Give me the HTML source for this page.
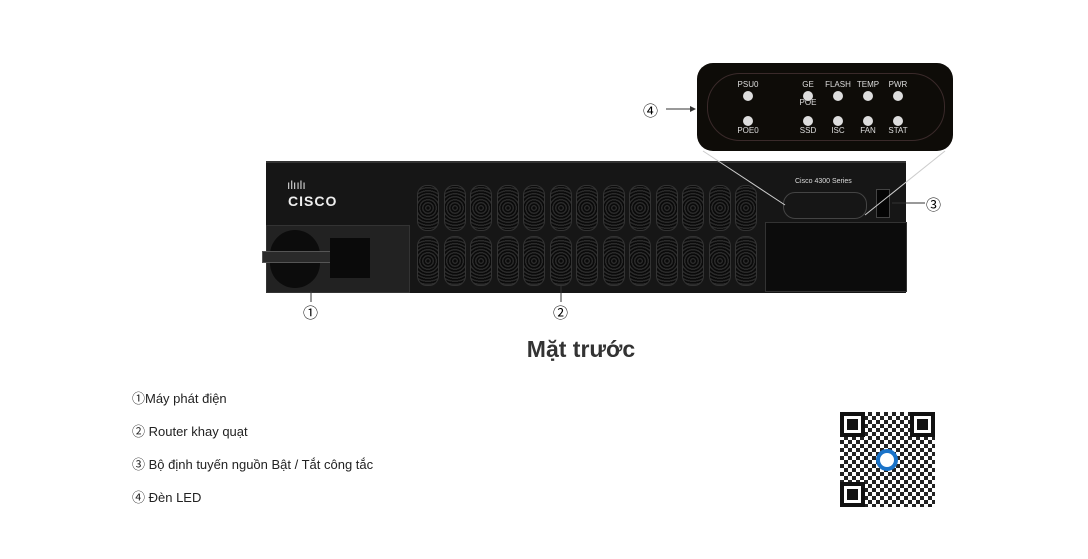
<!DOCTYPE html>
<html><head><meta charset="utf-8"><style>
body{margin:0;width:1088px;height:559px;background:#fff;position:relative;overflow:hidden;font-family:"Liberation Sans","Noto Sans CJK SC",sans-serif}
.a{position:absolute}
.v{position:absolute;width:20px;border-radius:10px;background:repeating-radial-gradient(circle at 50% 50%,#0a0a0a 0 1.5px,#2a2a2a 1.6px 3px);border:1px solid #333}
.led{position:absolute;width:10px;height:10px;border-radius:50%;background:#ddd}
.lt{position:absolute;color:#ddd;font-size:8px;width:40px;text-align:center}
.list{position:absolute;left:132px;font-size:13px;color:#222}
</style></head><body>
<div class="a" style="left:266px;top:161px;width:640px;height:130px;background:#161616;border-top:2px solid #333"></div>
<div class="a" style="left:266px;top:225px;width:142px;height:66px;background:#222;border:1px solid #333"></div>
<div class="a" style="left:270px;top:230px;width:50px;height:58px;border-radius:25px;background:#0c0c0c"></div>
<div class="a" style="left:262px;top:251px;width:68px;height:10px;background:#2a2a2a;border:1px solid #555"></div>
<div class="a" style="left:330px;top:238px;width:40px;height:40px;background:#0a0a0a"></div>
<div class="a" style="left:287px;top:178px;color:#ddd;font-size:12px;letter-spacing:0px">ılıılı</div>
<div class="a" style="left:288px;top:193px;color:#eee;font-size:14px;font-weight:bold;letter-spacing:1px">CISCO</div>
<div class="a" style="left:765px;top:222px;width:140px;height:68px;background:#0c0c0c;border:1px solid #333"></div>
<div class="a" style="left:783px;top:192px;width:82px;height:25px;border:1px solid #444;border-radius:12px"></div>
<div class="a" style="left:795px;top:178px;color:#ddd;font-size:7px">Cisco 4300 Series</div>
<div class="a" style="left:876px;top:189px;width:12px;height:27px;background:#050505;border:1px solid #444"></div>
<div id="vents"></div>
<div class="a" style="left:697px;top:63px;width:256px;height:88px;background:#0e0c08;border-radius:16px"></div>
<div class="a" style="left:707px;top:73px;width:236px;height:66px;border:1px solid #3a2a2a;border-radius:33px"></div>
<svg class="a" style="left:0;top:0" width="1088" height="559">
<line x1="703" y1="151" x2="785" y2="205" stroke="#ccc" stroke-width="1"/>
<line x1="945" y1="151" x2="865" y2="215" stroke="#ccc" stroke-width="1"/>
<line x1="666" y1="109" x2="690" y2="109" stroke="#333"/><polygon points="690,106 696,109 690,112" fill="#333"/>
<line x1="892" y1="203" x2="925" y2="203" stroke="#333"/>
<line x1="311" y1="291" x2="311" y2="302" stroke="#333"/>
<line x1="561" y1="285" x2="561" y2="302" stroke="#333"/>
</svg>
<div class="a" style="left:643px;top:100px;font-size:15px">④</div>
<div class="a" style="left:926px;top:194px;font-size:15px">③</div>
<div class="a" style="left:303px;top:302px;font-size:15px">①</div>
<div class="a" style="left:553px;top:302px;font-size:15px">②</div>
<div class="a" style="left:0;top:336px;width:1162px;text-align:center;font-size:23px;font-weight:bold;color:#333">Mặt trước</div>
<div class="list" style="top:388px">①Máy phát điện</div>
<div class="list" style="top:421px">② Router khay quạt</div>
<div class="list" style="top:454px">③ Bộ định tuyến nguồn Bật / Tắt công tắc</div>
<div class="list" style="top:487px">④ Đèn LED</div>
<div class="a" style="left:840px;top:412px;width:95px;height:95px;background:repeating-conic-gradient(#222 0 25%,#fff 0 50%) 0 0/8px 8px"></div>
<div class="a" style="left:840px;top:412px;width:17px;height:17px;border:4px solid #111;background:#fff;box-shadow:inset 0 0 0 3px #fff,inset 0 0 0 9px #111"></div>
<div class="a" style="left:910px;top:412px;width:17px;height:17px;border:4px solid #111;background:#fff;box-shadow:inset 0 0 0 3px #fff,inset 0 0 0 9px #111"></div>
<div class="a" style="left:840px;top:482px;width:17px;height:17px;border:4px solid #111;background:#fff;box-shadow:inset 0 0 0 3px #fff,inset 0 0 0 9px #111"></div>
<div class="a" style="left:876px;top:449px;width:22px;height:22px;border-radius:50%;background:#fff;border:4px solid #1a73c9;box-sizing:border-box"></div>
<script>
var h='';for(var i=0;i<13;i++){var x=417+i*26.5;h+='<div class="v" style="left:'+x+'px;top:185px;height:44px"></div><div class="v" style="left:'+x+'px;top:236px;height:48px"></div>';}
document.getElementById('vents').innerHTML=h;
var L=[[748,"PSU0",85,96],[808,"GE",85,96],[838,"FLASH",85,96],[868,"TEMP",85,96],[898,"PWR",85,96],[748,"POE0",131,121],[808,"SSD",131,121],[838,"ISC",131,121],[868,"FAN",131,121],[898,"STAT",131,121]];
var s='';L.forEach(function(l){s+='<div class="led" style="left:'+(l[0]-5)+'px;top:'+(l[3]-5)+'px"></div><div class="lt" style="left:'+(l[0]-20)+'px;top:'+(l[2]-5)+'px">'+l[1]+'</div>';});
s+='<div class="lt" style="left:788px;top:98px">POE</div>';
document.body.insertAdjacentHTML('beforeend',s);
</script>
</body></html>
